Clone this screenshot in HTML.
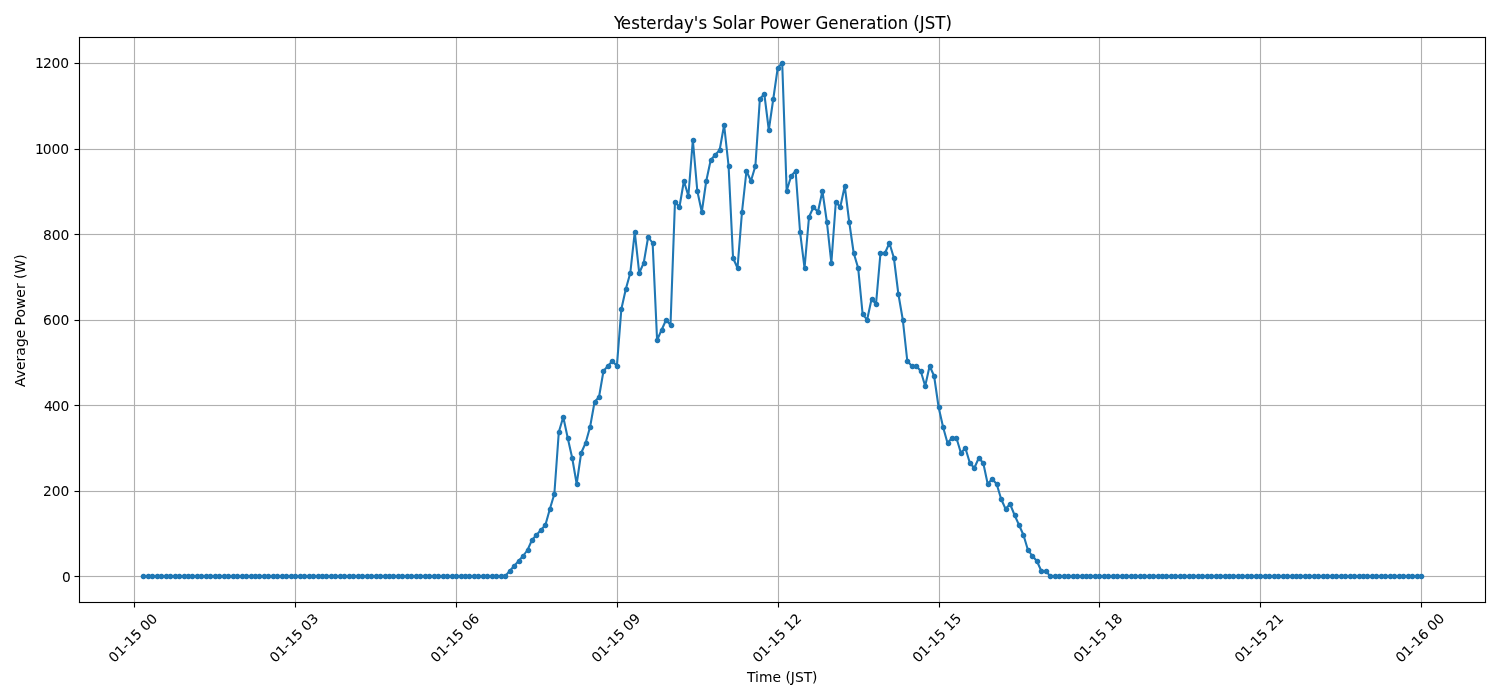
<!DOCTYPE html>
<html lang="en">
<head>
<meta charset="utf-8">
<title>Yesterday's Solar Power Generation (JST)</title>
<style>
html,body{margin:0;padding:0;background:#fff}
body{width:1500px;height:700px;overflow:hidden}
svg{display:block}
text{font-family:"DejaVu Sans","Liberation Sans",sans-serif;fill:#000;stroke:#000;stroke-width:0}
.g rect{fill:#b0b0b0}
.k rect{fill:#000}
.l{stroke:#1f77b4;stroke-width:2.09;fill:none;stroke-linejoin:round;stroke-linecap:square}
.m{fill:#1f77b4}
.t,.a{font-size:13.8889px}
.h{font-size:16.6667px}
</style>
</head>
<body>
<svg width="1500" height="700" viewBox="0 0 1500 700" role="img" aria-label="Yesterday's Solar Power Generation (JST)">
<rect width="1500" height="700" fill="#fff"/>
<g class="g">
<rect x="133.9375" y="37.5" width="1.125" height="565"/><rect x="294.9375" y="37.5" width="1.125" height="565"/><rect x="455.9375" y="37.5" width="1.125" height="565"/><rect x="616.9375" y="37.5" width="1.125" height="565"/><rect x="777.9375" y="37.5" width="1.125" height="565"/><rect x="938.9375" y="37.5" width="1.125" height="565"/><rect x="1098.9375" y="37.5" width="1.125" height="565"/><rect x="1259.9375" y="37.5" width="1.125" height="565"/><rect x="1420.9375" y="37.5" width="1.125" height="565"/>
<rect x="79.5" y="575.9375" width="1406" height="1.125"/><rect x="79.5" y="490.9375" width="1406" height="1.125"/><rect x="79.5" y="404.9375" width="1406" height="1.125"/><rect x="79.5" y="319.9375" width="1406" height="1.125"/><rect x="79.5" y="233.9375" width="1406" height="1.125"/><rect x="79.5" y="148.9375" width="1406" height="1.125"/><rect x="79.5" y="62.9375" width="1406" height="1.125"/>
</g>
<g class="k">
<rect x="133.9445" y="602.5" width="1.111" height="5"/><rect x="294.9445" y="602.5" width="1.111" height="5"/><rect x="455.9445" y="602.5" width="1.111" height="5"/><rect x="616.9445" y="602.5" width="1.111" height="5"/><rect x="777.9445" y="602.5" width="1.111" height="5"/><rect x="938.9445" y="602.5" width="1.111" height="5"/><rect x="1098.9445" y="602.5" width="1.111" height="5"/><rect x="1259.9445" y="602.5" width="1.111" height="5"/><rect x="1420.9445" y="602.5" width="1.111" height="5"/>
<rect x="74.5" y="575.9445" width="5" height="1.111"/><rect x="74.5" y="490.9445" width="5" height="1.111"/><rect x="74.5" y="404.9445" width="5" height="1.111"/><rect x="74.5" y="319.9445" width="5" height="1.111"/><rect x="74.5" y="233.9445" width="5" height="1.111"/><rect x="74.5" y="148.9445" width="5" height="1.111"/><rect x="74.5" y="62.9445" width="5" height="1.111"/>
</g>
<polyline class="l" points="143.29,576.15 147.76,576.15 152.23,576.15 156.7,576.15 161.17,576.15 165.63,576.15 170.1,576.15 174.57,576.15 179.04,576.15 183.5,576.15 187.97,576.15 192.44,576.15 196.91,576.15 201.38,576.15 205.84,576.15 210.31,576.15 214.78,576.15 219.25,576.15 223.72,576.15 228.18,576.15 232.65,576.15 237.12,576.15 241.59,576.15 246.05,576.15 250.52,576.15 254.99,576.15 259.46,576.15 263.93,576.15 268.39,576.15 272.86,576.15 277.33,576.15 281.8,576.15 286.27,576.15 290.73,576.15 295.2,576.15 299.67,576.15 304.14,576.15 308.61,576.15 313.07,576.15 317.54,576.15 322.01,576.15 326.48,576.15 330.94,576.15 335.41,576.15 339.88,576.15 344.35,576.15 348.82,576.15 353.28,576.15 357.75,576.15 362.22,576.15 366.69,576.15 371.16,576.15 375.62,576.15 380.09,576.15 384.56,576.15 389.03,576.15 393.5,576.15 397.96,576.15 402.43,576.15 406.9,576.15 411.37,576.15 415.83,576.15 420.3,576.15 424.77,576.15 429.24,576.15 433.71,576.15 438.17,576.15 442.64,576.15 447.11,576.15 451.58,576.15 456.05,576.15 460.51,576.15 464.98,576.15 469.45,576.15 473.92,576.15 478.39,576.15 482.85,576.15 487.32,576.15 491.79,576.15 496.26,576.15 500.72,576.15 505.19,576.15 509.66,571 514.13,566 518.6,561 523.06,556 527.53,550 532,540 536.47,535 540.94,530 545.4,525 549.87,509 554.34,494 558.81,432 563.27,417 567.74,438 572.21,458 576.68,484 581.15,453 585.61,443 590.08,427 594.55,402 599.02,397 603.49,371 607.95,366 612.42,361 616.89,366 621.36,309 625.83,289 630.29,273 634.76,232 639.23,273 643.7,263 648.16,237 652.63,243 657.1,340 661.57,330 666.04,320 670.5,325 674.97,202 679.44,207 683.91,181 688.38,196 692.84,140 697.31,191 701.78,212 706.25,181 710.72,160 715.18,155 719.65,150 724.12,125 728.59,166 733.05,258 737.52,268 741.99,212 746.46,171 750.93,181 755.39,166 759.86,99 764.33,94 768.8,130 773.27,99 777.73,68 782.2,62.99 786.67,191 791.14,176 795.61,171 800.07,232 804.54,268 809.01,217 813.48,207 817.94,212 822.41,191 826.88,222 831.35,263 835.82,202 840.28,207 844.75,186 849.22,222 853.69,253 858.16,268 862.62,314 867.09,320 871.56,299 876.03,304 880.49,253 884.96,253 889.43,243 893.9,258 898.37,294 902.83,320 907.3,361 911.77,366 916.24,366 920.71,371 925.17,386 929.64,366 934.11,376 938.58,407 943.05,427 947.51,443 951.98,438 956.45,438 960.92,453 965.38,448 969.85,463 974.32,468 978.79,458 983.26,463 987.72,484 992.19,479 996.66,484 1001.13,499 1005.6,509 1010.06,504 1014.53,515 1019,525 1023.47,535 1027.94,550 1032.4,556 1036.87,561 1041.34,571 1045.81,571 1050.27,576.15 1054.74,576.15 1059.21,576.15 1063.68,576.15 1068.15,576.15 1072.61,576.15 1077.08,576.15 1081.55,576.15 1086.02,576.15 1090.49,576.15 1094.95,576.15 1099.42,576.15 1103.89,576.15 1108.36,576.15 1112.83,576.15 1117.29,576.15 1121.76,576.15 1126.23,576.15 1130.7,576.15 1135.16,576.15 1139.63,576.15 1144.1,576.15 1148.57,576.15 1153.04,576.15 1157.5,576.15 1161.97,576.15 1166.44,576.15 1170.91,576.15 1175.38,576.15 1179.84,576.15 1184.31,576.15 1188.78,576.15 1193.25,576.15 1197.71,576.15 1202.18,576.15 1206.65,576.15 1211.12,576.15 1215.59,576.15 1220.05,576.15 1224.52,576.15 1228.99,576.15 1233.46,576.15 1237.93,576.15 1242.39,576.15 1246.86,576.15 1251.33,576.15 1255.8,576.15 1260.27,576.15 1264.73,576.15 1269.2,576.15 1273.67,576.15 1278.14,576.15 1282.6,576.15 1287.07,576.15 1291.54,576.15 1296.01,576.15 1300.48,576.15 1304.94,576.15 1309.41,576.15 1313.88,576.15 1318.35,576.15 1322.82,576.15 1327.28,576.15 1331.75,576.15 1336.22,576.15 1340.69,576.15 1345.16,576.15 1349.62,576.15 1354.09,576.15 1358.56,576.15 1363.03,576.15 1367.49,576.15 1371.96,576.15 1376.43,576.15 1380.9,576.15 1385.37,576.15 1389.83,576.15 1394.3,576.15 1398.77,576.15 1403.24,576.15 1407.71,576.15 1412.17,576.15 1416.64,576.15 1421.11,576.15"/>
<defs><path id="m" d="M2.777 0.136L2.75 0.408L2.697 0.675L2.617 0.937L2.513 1.189L2.384 1.429L2.233 1.656L2.06 1.867L1.867 2.06L1.656 2.233L1.429 2.384L1.189 2.513L0.937 2.617L0.675 2.697L0.408 2.75L0.136 2.777L-0.136 2.777L-0.408 2.75L-0.675 2.697L-0.937 2.617L-1.189 2.513L-1.429 2.384L-1.656 2.233L-1.867 2.06L-2.06 1.867L-2.233 1.656L-2.384 1.429L-2.513 1.189L-2.617 0.937L-2.697 0.675L-2.75 0.408L-2.777 0.136L-2.777 -0.136L-2.75 -0.408L-2.697 -0.675L-2.617 -0.937L-2.513 -1.189L-2.384 -1.429L-2.233 -1.656L-2.06 -1.867L-1.867 -2.06L-1.656 -2.233L-1.429 -2.384L-1.189 -2.513L-0.937 -2.617L-0.675 -2.697L-0.408 -2.75L-0.136 -2.777L0.136 -2.777L0.408 -2.75L0.675 -2.697L0.937 -2.617L1.189 -2.513L1.429 -2.384L1.656 -2.233L1.867 -2.06L2.06 -1.867L2.233 -1.656L2.384 -1.429L2.513 -1.189L2.617 -0.937L2.697 -0.675L2.75 -0.408L2.777 -0.136Z"/></defs>
<g class="m">
<use href="#m" x="143.5" y="576.5"/><use href="#m" x="148.5" y="576.5"/><use href="#m" x="152.5" y="576.5"/><use href="#m" x="157.5" y="576.5"/><use href="#m" x="161.5" y="576.5"/><use href="#m" x="166.5" y="576.5"/><use href="#m" x="170.5" y="576.5"/><use href="#m" x="175.5" y="576.5"/><use href="#m" x="179.5" y="576.5"/><use href="#m" x="184.5" y="576.5"/><use href="#m" x="188.5" y="576.5"/><use href="#m" x="192.5" y="576.5"/><use href="#m" x="197.5" y="576.5"/><use href="#m" x="201.5" y="576.5"/><use href="#m" x="206.5" y="576.5"/><use href="#m" x="210.5" y="576.5"/><use href="#m" x="215.5" y="576.5"/><use href="#m" x="219.5" y="576.5"/><use href="#m" x="224.5" y="576.5"/><use href="#m" x="228.5" y="576.5"/><use href="#m" x="233.5" y="576.5"/><use href="#m" x="237.5" y="576.5"/><use href="#m" x="242.5" y="576.5"/><use href="#m" x="246.5" y="576.5"/><use href="#m" x="251.5" y="576.5"/><use href="#m" x="255.5" y="576.5"/><use href="#m" x="259.5" y="576.5"/><use href="#m" x="264.5" y="576.5"/><use href="#m" x="268.5" y="576.5"/><use href="#m" x="273.5" y="576.5"/><use href="#m" x="277.5" y="576.5"/><use href="#m" x="282.5" y="576.5"/><use href="#m" x="286.5" y="576.5"/><use href="#m" x="291.5" y="576.5"/><use href="#m" x="295.5" y="576.5"/><use href="#m" x="300.5" y="576.5"/><use href="#m" x="304.5" y="576.5"/><use href="#m" x="309.5" y="576.5"/><use href="#m" x="313.5" y="576.5"/><use href="#m" x="318.5" y="576.5"/><use href="#m" x="322.5" y="576.5"/><use href="#m" x="326.5" y="576.5"/><use href="#m" x="331.5" y="576.5"/><use href="#m" x="335.5" y="576.5"/><use href="#m" x="340.5" y="576.5"/><use href="#m" x="344.5" y="576.5"/><use href="#m" x="349.5" y="576.5"/><use href="#m" x="353.5" y="576.5"/><use href="#m" x="358.5" y="576.5"/><use href="#m" x="362.5" y="576.5"/><use href="#m" x="367.5" y="576.5"/><use href="#m" x="371.5" y="576.5"/><use href="#m" x="376.5" y="576.5"/><use href="#m" x="380.5" y="576.5"/><use href="#m" x="385.5" y="576.5"/><use href="#m" x="389.5" y="576.5"/><use href="#m" x="393.5" y="576.5"/><use href="#m" x="398.5" y="576.5"/><use href="#m" x="402.5" y="576.5"/><use href="#m" x="407.5" y="576.5"/><use href="#m" x="411.5" y="576.5"/><use href="#m" x="416.5" y="576.5"/><use href="#m" x="420.5" y="576.5"/><use href="#m" x="425.5" y="576.5"/><use href="#m" x="429.5" y="576.5"/><use href="#m" x="434.5" y="576.5"/><use href="#m" x="438.5" y="576.5"/><use href="#m" x="443.5" y="576.5"/><use href="#m" x="447.5" y="576.5"/><use href="#m" x="452.5" y="576.5"/><use href="#m" x="456.5" y="576.5"/><use href="#m" x="461.5" y="576.5"/><use href="#m" x="465.5" y="576.5"/><use href="#m" x="469.5" y="576.5"/><use href="#m" x="474.5" y="576.5"/><use href="#m" x="478.5" y="576.5"/><use href="#m" x="483.5" y="576.5"/><use href="#m" x="487.5" y="576.5"/><use href="#m" x="492.5" y="576.5"/><use href="#m" x="496.5" y="576.5"/><use href="#m" x="501.5" y="576.5"/><use href="#m" x="505.5" y="576.5"/><use href="#m" x="510.5" y="571.5"/><use href="#m" x="514.5" y="566.5"/><use href="#m" x="519.5" y="561.5"/><use href="#m" x="523.5" y="556.5"/><use href="#m" x="528.5" y="550.5"/><use href="#m" x="532.5" y="540.5"/><use href="#m" x="536.5" y="535.5"/><use href="#m" x="541.5" y="530.5"/><use href="#m" x="545.5" y="525.5"/><use href="#m" x="550.5" y="509.5"/><use href="#m" x="554.5" y="494.5"/><use href="#m" x="559.5" y="432.5"/><use href="#m" x="563.5" y="417.5"/><use href="#m" x="568.5" y="438.5"/><use href="#m" x="572.5" y="458.5"/><use href="#m" x="577.5" y="484.5"/><use href="#m" x="581.5" y="453.5"/><use href="#m" x="586.5" y="443.5"/><use href="#m" x="590.5" y="427.5"/><use href="#m" x="595.5" y="402.5"/><use href="#m" x="599.5" y="397.5"/><use href="#m" x="603.5" y="371.5"/><use href="#m" x="608.5" y="366.5"/><use href="#m" x="612.5" y="361.5"/><use href="#m" x="617.5" y="366.5"/><use href="#m" x="621.5" y="309.5"/><use href="#m" x="626.5" y="289.5"/><use href="#m" x="630.5" y="273.5"/><use href="#m" x="635.5" y="232.5"/><use href="#m" x="639.5" y="273.5"/><use href="#m" x="644.5" y="263.5"/><use href="#m" x="648.5" y="237.5"/><use href="#m" x="653.5" y="243.5"/><use href="#m" x="657.5" y="340.5"/><use href="#m" x="662.5" y="330.5"/><use href="#m" x="666.5" y="320.5"/><use href="#m" x="671.5" y="325.5"/><use href="#m" x="675.5" y="202.5"/><use href="#m" x="679.5" y="207.5"/><use href="#m" x="684.5" y="181.5"/><use href="#m" x="688.5" y="196.5"/><use href="#m" x="693.5" y="140.5"/><use href="#m" x="697.5" y="191.5"/><use href="#m" x="702.5" y="212.5"/><use href="#m" x="706.5" y="181.5"/><use href="#m" x="711.5" y="160.5"/><use href="#m" x="715.5" y="155.5"/><use href="#m" x="720.5" y="150.5"/><use href="#m" x="724.5" y="125.5"/><use href="#m" x="729.5" y="166.5"/><use href="#m" x="733.5" y="258.5"/><use href="#m" x="738.5" y="268.5"/><use href="#m" x="742.5" y="212.5"/><use href="#m" x="746.5" y="171.5"/><use href="#m" x="751.5" y="181.5"/><use href="#m" x="755.5" y="166.5"/><use href="#m" x="760.5" y="99.5"/><use href="#m" x="764.5" y="94.5"/><use href="#m" x="769.5" y="130.5"/><use href="#m" x="773.5" y="99.5"/><use href="#m" x="778.5" y="68.5"/><use href="#m" x="782.5" y="63.5"/><use href="#m" x="787.5" y="191.5"/><use href="#m" x="791.5" y="176.5"/><use href="#m" x="796.5" y="171.5"/><use href="#m" x="800.5" y="232.5"/><use href="#m" x="805.5" y="268.5"/><use href="#m" x="809.5" y="217.5"/><use href="#m" x="813.5" y="207.5"/><use href="#m" x="818.5" y="212.5"/><use href="#m" x="822.5" y="191.5"/><use href="#m" x="827.5" y="222.5"/><use href="#m" x="831.5" y="263.5"/><use href="#m" x="836.5" y="202.5"/><use href="#m" x="840.5" y="207.5"/><use href="#m" x="845.5" y="186.5"/><use href="#m" x="849.5" y="222.5"/><use href="#m" x="854.5" y="253.5"/><use href="#m" x="858.5" y="268.5"/><use href="#m" x="863.5" y="314.5"/><use href="#m" x="867.5" y="320.5"/><use href="#m" x="872.5" y="299.5"/><use href="#m" x="876.5" y="304.5"/><use href="#m" x="880.5" y="253.5"/><use href="#m" x="885.5" y="253.5"/><use href="#m" x="889.5" y="243.5"/><use href="#m" x="894.5" y="258.5"/><use href="#m" x="898.5" y="294.5"/><use href="#m" x="903.5" y="320.5"/><use href="#m" x="907.5" y="361.5"/><use href="#m" x="912.5" y="366.5"/><use href="#m" x="916.5" y="366.5"/><use href="#m" x="921.5" y="371.5"/><use href="#m" x="925.5" y="386.5"/><use href="#m" x="930.5" y="366.5"/><use href="#m" x="934.5" y="376.5"/><use href="#m" x="939.5" y="407.5"/><use href="#m" x="943.5" y="427.5"/><use href="#m" x="948.5" y="443.5"/><use href="#m" x="952.5" y="438.5"/><use href="#m" x="956.5" y="438.5"/><use href="#m" x="961.5" y="453.5"/><use href="#m" x="965.5" y="448.5"/><use href="#m" x="970.5" y="463.5"/><use href="#m" x="974.5" y="468.5"/><use href="#m" x="979.5" y="458.5"/><use href="#m" x="983.5" y="463.5"/><use href="#m" x="988.5" y="484.5"/><use href="#m" x="992.5" y="479.5"/><use href="#m" x="997.5" y="484.5"/><use href="#m" x="1001.5" y="499.5"/><use href="#m" x="1006.5" y="509.5"/><use href="#m" x="1010.5" y="504.5"/><use href="#m" x="1015.5" y="515.5"/><use href="#m" x="1019.5" y="525.5"/><use href="#m" x="1023.5" y="535.5"/><use href="#m" x="1028.5" y="550.5"/><use href="#m" x="1032.5" y="556.5"/><use href="#m" x="1037.5" y="561.5"/><use href="#m" x="1041.5" y="571.5"/><use href="#m" x="1046.5" y="571.5"/><use href="#m" x="1050.5" y="576.5"/><use href="#m" x="1055.5" y="576.5"/><use href="#m" x="1059.5" y="576.5"/><use href="#m" x="1064.5" y="576.5"/><use href="#m" x="1068.5" y="576.5"/><use href="#m" x="1073.5" y="576.5"/><use href="#m" x="1077.5" y="576.5"/><use href="#m" x="1082.5" y="576.5"/><use href="#m" x="1086.5" y="576.5"/><use href="#m" x="1090.5" y="576.5"/><use href="#m" x="1095.5" y="576.5"/><use href="#m" x="1099.5" y="576.5"/><use href="#m" x="1104.5" y="576.5"/><use href="#m" x="1108.5" y="576.5"/><use href="#m" x="1113.5" y="576.5"/><use href="#m" x="1117.5" y="576.5"/><use href="#m" x="1122.5" y="576.5"/><use href="#m" x="1126.5" y="576.5"/><use href="#m" x="1131.5" y="576.5"/><use href="#m" x="1135.5" y="576.5"/><use href="#m" x="1140.5" y="576.5"/><use href="#m" x="1144.5" y="576.5"/><use href="#m" x="1149.5" y="576.5"/><use href="#m" x="1153.5" y="576.5"/><use href="#m" x="1158.5" y="576.5"/><use href="#m" x="1162.5" y="576.5"/><use href="#m" x="1166.5" y="576.5"/><use href="#m" x="1171.5" y="576.5"/><use href="#m" x="1175.5" y="576.5"/><use href="#m" x="1180.5" y="576.5"/><use href="#m" x="1184.5" y="576.5"/><use href="#m" x="1189.5" y="576.5"/><use href="#m" x="1193.5" y="576.5"/><use href="#m" x="1198.5" y="576.5"/><use href="#m" x="1202.5" y="576.5"/><use href="#m" x="1207.5" y="576.5"/><use href="#m" x="1211.5" y="576.5"/><use href="#m" x="1216.5" y="576.5"/><use href="#m" x="1220.5" y="576.5"/><use href="#m" x="1225.5" y="576.5"/><use href="#m" x="1229.5" y="576.5"/><use href="#m" x="1233.5" y="576.5"/><use href="#m" x="1238.5" y="576.5"/><use href="#m" x="1242.5" y="576.5"/><use href="#m" x="1247.5" y="576.5"/><use href="#m" x="1251.5" y="576.5"/><use href="#m" x="1256.5" y="576.5"/><use href="#m" x="1260.5" y="576.5"/><use href="#m" x="1265.5" y="576.5"/><use href="#m" x="1269.5" y="576.5"/><use href="#m" x="1274.5" y="576.5"/><use href="#m" x="1278.5" y="576.5"/><use href="#m" x="1283.5" y="576.5"/><use href="#m" x="1287.5" y="576.5"/><use href="#m" x="1292.5" y="576.5"/><use href="#m" x="1296.5" y="576.5"/><use href="#m" x="1300.5" y="576.5"/><use href="#m" x="1305.5" y="576.5"/><use href="#m" x="1309.5" y="576.5"/><use href="#m" x="1314.5" y="576.5"/><use href="#m" x="1318.5" y="576.5"/><use href="#m" x="1323.5" y="576.5"/><use href="#m" x="1327.5" y="576.5"/><use href="#m" x="1332.5" y="576.5"/><use href="#m" x="1336.5" y="576.5"/><use href="#m" x="1341.5" y="576.5"/><use href="#m" x="1345.5" y="576.5"/><use href="#m" x="1350.5" y="576.5"/><use href="#m" x="1354.5" y="576.5"/><use href="#m" x="1359.5" y="576.5"/><use href="#m" x="1363.5" y="576.5"/><use href="#m" x="1367.5" y="576.5"/><use href="#m" x="1372.5" y="576.5"/><use href="#m" x="1376.5" y="576.5"/><use href="#m" x="1381.5" y="576.5"/><use href="#m" x="1385.5" y="576.5"/><use href="#m" x="1390.5" y="576.5"/><use href="#m" x="1394.5" y="576.5"/><use href="#m" x="1399.5" y="576.5"/><use href="#m" x="1403.5" y="576.5"/><use href="#m" x="1408.5" y="576.5"/><use href="#m" x="1412.5" y="576.5"/><use href="#m" x="1417.5" y="576.5"/><use href="#m" x="1421.5" y="576.5"/>
</g>
<g class="k">
<rect x="78.9445" y="36.9445" width="1.111" height="566.111"/><rect x="1484.9445" y="36.9445" width="1.111" height="566.111"/><rect x="78.9445" y="601.9445" width="1407.111" height="1.111"/><rect x="78.9445" y="36.9445" width="1407.111" height="1.111"/>
</g>
<text class="t" transform="translate(70.805 582.0525) scale(0.992 1)" x="-8.832" style="stroke-width:0.02px">0</text>
<text class="t" transform="translate(69.43 496.0265) scale(0.997 1)" x="-26.496 -17.679 -8.847">200</text>
<text class="t" transform="translate(69.43 411.0004) scale(0.997 1)" x="-25.621 -17.679 -8.847">400</text>
<text class="t" transform="translate(69.43 325.0993) scale(1 1)" x="-26.501 -17.678 -8.839">600</text>
<text class="t" transform="translate(69.43 240.0733) scale(1 1)" x="-26.501 -17.678 -8.839">800</text>
<text class="t" transform="translate(69.18 153.9222) scale(1 1)" x="-34.295 -26.475 -17.655 -8.835">1000</text>
<text class="t" transform="translate(69.18 67.8962) scale(1 1)" x="-34.295 -26.225 -17.655 -8.835">1200</text>
<text class="t" transform="translate(136.2578 641.275) rotate(-45) scale(0.994 0.9775)" x="-31.217 -22.389 -13.56 -8.551 0.293 9.122 13.528 22.248" style="stroke-width:0.08px">01-15 00</text>
<text class="t" transform="translate(297.2267 641.275) rotate(-45) scale(1 0.9725)" x="-31.199 -22.376 -13.552 -8.546 0.293 9.117 13.521 22.36" style="stroke-width:0.06px">01-15 03</text>
<text class="t" transform="translate(458.1956 641.275) rotate(-45) scale(0.992 0.9888)" x="-31.214 -22.395 -13.31 -8.543 0.292 9.127 13.528 22.363" style="stroke-width:0.06px">01-15 06</text>
<text class="t" transform="translate(619.2896 641.275) rotate(-45) scale(0.9945 0.985)" x="-31.202 -22.378 -13.553 -8.548 0.276 9.117 13.521 22.346" style="stroke-width:0.07px">01-15 09</text>
<text class="t" transform="translate(780.196 641.275) rotate(-45) scale(1 0.97)" x="-31.207 -22.263 -13.553 -8.541 0.278 9.112 13.522 22.356" style="stroke-width:0.06px">01-15 12</text>
<text class="t" transform="translate(940.2274 641.275) rotate(-45) scale(0.999 0.995)" x="-31.187 -22.364 -13.541 -8.541 0.282 9.105 13.509 22.333" style="stroke-width:0.03px">01-15 15</text>
<text class="t" transform="translate(1101.1964 641.275) rotate(-45) scale(1 0.995)" x="-31.203 -22.384 -13.924 -8.537 0.282 9.117 13.534 22.353" style="stroke-width:0.04px">01-15 18</text>
<text class="t" transform="translate(1262.1653 641.275) rotate(-45) scale(0.994 0.9775)" x="-31.217 -22.389 -13.31 -8.551 0.418 9.122 13.528 22.373" style="stroke-width:0.07px">01-15 21</text>
<text class="t" transform="translate(1423.2592 641.275) rotate(-45) scale(0.997 0.9725)" x="-31.176 -22.355 -13.533 -8.536 0.286 9.107 13.518 22.339" style="stroke-width:0.07px">01-16 00</text>
<text class="a" transform="translate(782.325 682.1) scale(0.999 1)" x="-35.294 -27.252 -23.391 -9.88 -1.333 3.079 8.486 12.576 21.385 29.746">Time (JST)</text>
<text class="a" transform="translate(25 320.625) rotate(-90) scale(1.002 1)" x="-66.134 -57.458 -49.254 -40.72 -35.02 -26.392 -17.715 -9.18 -4.771 3.102 11.589 22.942 31.477 37.177 41.586 47.003 60.718" style="stroke-width:0.02px">Average Power (W)</text>
<text class="h" transform="translate(782.5125 29) scale(0.997 1.06)" x="-169.135 -162.172 -151.679 -142.996 -136.583 -126.216 -119.662 -109.075 -98.878 -89.01 -84.311 -75.753 -70.335 -59.887 -49.69 -45.056 -34.844 -28.005 -22.697 -13.249 -3.052 10.565 20.947 27.676 32.969 45.881 56.373 66.681 77.188 83.916 94.239 100.777 105.286 115.593 125.916 131.209 137.703 142.622 153.194 163.376" style="stroke-width:0.06px">Yesterday's Solar Power Generation (JST)</text>
</svg>
</body>
</html>
